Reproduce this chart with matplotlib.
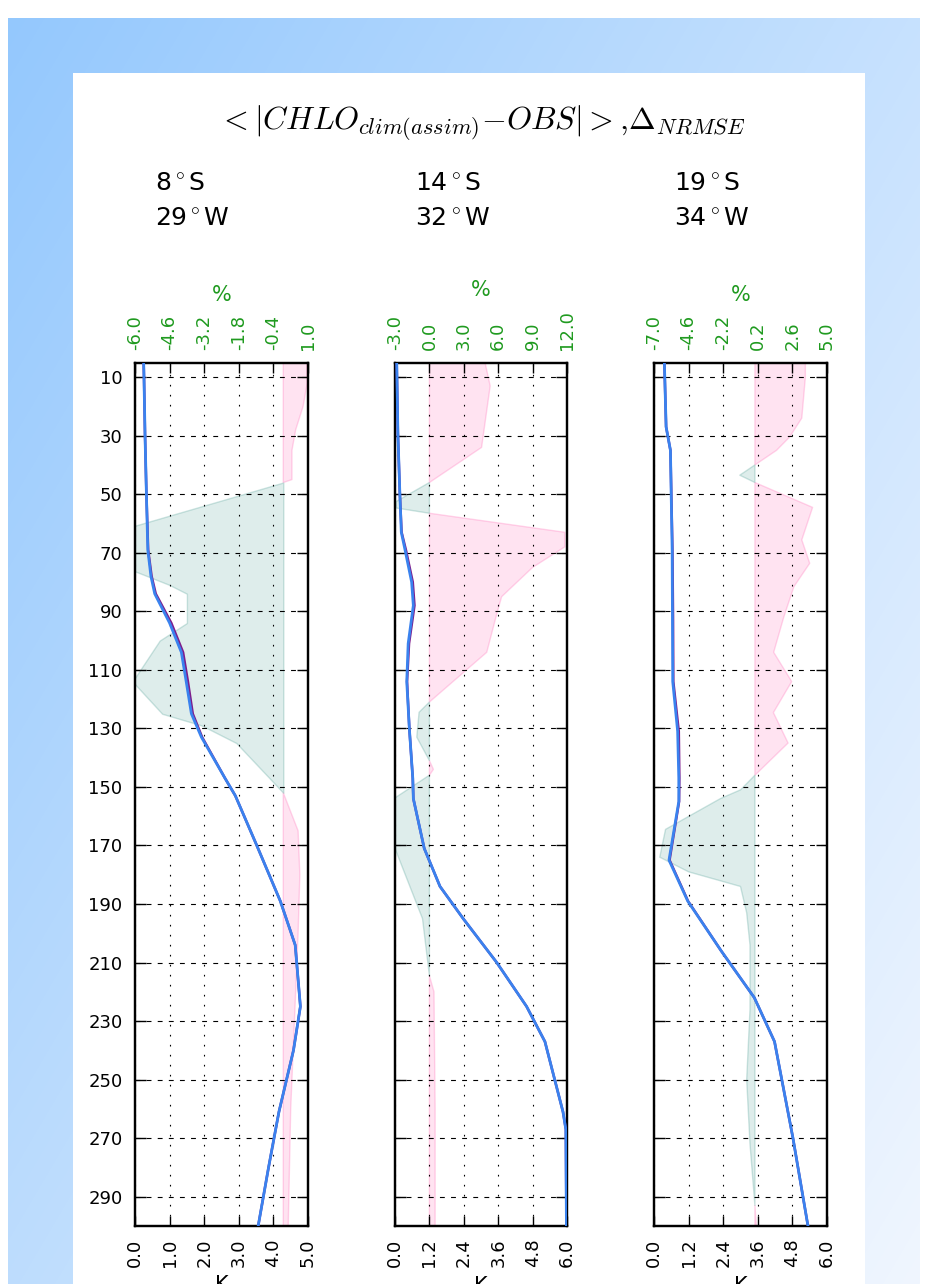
import numpy as np
import matplotlib
matplotlib.use("Agg")
import matplotlib.pyplot as plt
from matplotlib.patches import Rectangle

plt.rcParams["font.family"] = "DejaVu Sans"
plt.rcParams["mathtext.fontset"] = "cm"
plt.rcParams["lines.scale_dashes"] = False

# ---------------------------------------------------------------- data
title = r"${<}|CHLO_{clim(assim)}{-}OBS|{>}{,}\Delta_{NRMSE}$"
lat_labels = [r"8$^\circ$S", r"14$^\circ$S", r"19$^\circ$S"]
lon_labels = [r"29$^\circ$W", r"32$^\circ$W", r"34$^\circ$W"]

depth_ticks = list(range(10, 300, 20))
k_limits = [(0.0, 5.0), (0.0, 6.0), (0.0, 6.0)]
pct_limits = [(-6.0, 1.0), (-3.0, 12.0), (-7.0, 5.0)]

# profiles (K) against depth
depth_k1 = [5, 10, 30, 50, 69, 78, 84, 94, 104, 114, 125, 133, 147, 153, 170, 189, 204, 225, 240, 261, 280, 300]
clim1 = [0.25, 0.26, 0.29, 0.33, 0.37, 0.46, 0.57, 1.0, 1.34, 1.48, 1.63, 1.92, 2.6, 2.9, 3.52, 4.2, 4.63, 4.78, 4.58, 4.16, 3.86, 3.56]
assim1 = [0.25, 0.26, 0.29, 0.33, 0.38, 0.48, 0.6, 1.05, 1.39, 1.53, 1.67, 1.94, 2.6, 2.9, 3.52, 4.2, 4.63, 4.78, 4.58, 4.16, 3.86, 3.56]

depth_k2 = [5, 29, 50, 63, 69, 80, 88, 101, 114, 130, 147, 154, 171, 184, 195, 210, 225, 237, 261, 267, 300]
clim2 = [0.06, 0.10, 0.17, 0.22, 0.35, 0.58, 0.64, 0.46, 0.41, 0.50, 0.62, 0.64, 1.02, 1.57, 2.38, 3.55, 4.59, 5.23, 5.86, 5.96, 5.98]
assim2 = [0.06, 0.10, 0.17, 0.23, 0.38, 0.62, 0.68, 0.49, 0.42, 0.50, 0.62, 0.64, 1.02, 1.57, 2.38, 3.55, 4.59, 5.23, 5.86, 5.96, 5.98]

depth_k3 = [5, 27, 35, 69, 92, 114, 131, 147, 155, 175, 189, 206, 222, 237, 270, 300]
clim3 = [0.36, 0.42, 0.57, 0.63, 0.64, 0.65, 0.82, 0.86, 0.86, 0.52, 1.17, 2.33, 3.48, 4.18, 4.82, 5.34]
assim3 = [0.36, 0.42, 0.57, 0.64, 0.66, 0.67, 0.86, 0.88, 0.87, 0.54, 1.18, 2.33, 3.48, 4.18, 4.82, 5.34]

# NRMSE change (%) against depth
depth_p1 = [5, 12, 20, 28, 35, 45, 46, 61, 76, 81, 84, 94, 100, 114, 125, 129, 135, 152, 165, 180, 200, 230, 260, 300]
nrmse1 = [0.95, 0.97, 0.8, 0.5, 0.35, 0.35, 0.0, -6.1, -6.1, -4.6, -3.9, -3.9, -5.0, -6.1, -4.9, -3.3, -1.9, 0.0, 0.6, 0.67, 0.6, 0.45, 0.3, 0.2]

depth_p2 = [5, 13, 34, 46, 52.5, 54.7, 56.5, 63, 68, 75, 85, 90.5, 104, 121, 124.5, 133, 141, 144, 146, 154, 170, 195, 214.5, 220, 260, 300]
nrmse2 = [4.85, 5.3, 4.55, 0.0, -2.9, -2.9, 0.0, 11.8, 11.8, 9.0, 6.3, 5.9, 5.0, 0.0, -0.9, -1.1, 0.0, 0.35, 0.0, -3.1, -3.1, -0.6, 0.0, 0.4, 0.5, 0.5]

depth_p3 = [5, 10, 24, 30.5, 35, 40, 43.5, 46, 54.5, 65.6, 73.6, 81.6, 92, 104, 114, 124.6, 135, 146, 151, 154,
            164.5, 174, 179, 184, 193, 204, 226, 250, 272, 293, 300]
nrmse3 = [3.5, 3.5, 3.25, 2.4, 1.5, 0.0, -1.05, 0.0, 4.0, 3.25, 3.8, 2.7, 2.0, 1.3, 2.55, 1.28, 2.3, 0.0, -1.0, -2.4,
          -6.2, -6.6, -4.6, -1.0, -0.57, -0.34, -0.34, -0.57, -0.34, 0.0, 0.1]

depth_k = [depth_k1, depth_k2, depth_k3]
clim = [clim1, clim2, clim3]
assim = [assim1, assim2, assim3]
depth_p = [depth_p1, depth_p2, depth_p3]
nrmse = [nrmse1, nrmse2, nrmse3]

# ---------------------------------------------------------------- styling
W, H = 944, 1284
GREEN = "#1f9a1f"
BLUE = "#3a82ee"
PURPLE = "#7d1d8c"
PINK_FACE = (1.0, 0.41, 0.71, 0.18)
PINK_EDGE = (1.0, 0.41, 0.71, 0.28)
TEAL_FACE = (0.30, 0.62, 0.58, 0.18)
TEAL_EDGE = (0.30, 0.62, 0.58, 0.28)
TICK_FS = 13

fig = plt.figure(figsize=(W / 100, H / 100), dpi=100, facecolor="white")

# diagonal blue backdrop with a white card on it
bw, bh = 920 - 8, H - 18
gx = np.linspace(0, 1, bw)[None, :]
gy = np.linspace(0, 1, bh)[:, None]
t = np.clip(0.55 * gx + 0.45 * gy, 0, 1)
c0 = np.array([148, 200, 253]) / 255.0
c1 = np.array([240, 246, 255]) / 255.0
grad = c0[None, None, :] * (1 - t[..., None]) + c1[None, None, :] * t[..., None]
fig.figimage(grad, xo=8, yo=0, origin="upper", zorder=-3)
fig.add_artist(Rectangle((73 / W, 0), (865 - 73) / W, 1 - 73 / H, transform=fig.transFigure,
                         facecolor="white", edgecolor="none", zorder=-2))

fig.text(482 / W, 1 - 123 / H, title, fontsize=23, ha="center", va="center")

lefts = [135, 395, 654]
widths = [173, 172, 173]
top_px, bot_px = 362.5, 1226

for i in range(3):
    ax = fig.add_axes([lefts[i] / W, 1 - bot_px / H, widths[i] / W, (bot_px - top_px) / H])
    axp = ax.twiny()
    ax.set_zorder(axp.get_zorder() + 1)
    ax.patch.set_visible(False)

    d = np.array(depth_p[i], dtype=float)
    v = np.array(nrmse[i], dtype=float)
    axp.fill_betweenx(d, 0, v, where=v >= 0, interpolate=True,
                      facecolor=PINK_FACE, edgecolor=PINK_EDGE, lw=1)
    axp.fill_betweenx(d, 0, v, where=v <= 0, interpolate=True,
                      facecolor=TEAL_FACE, edgecolor=TEAL_EDGE, lw=1)
    axp.set_xlim(*pct_limits[i])

    ax.plot(assim[i], depth_k[i], color=PURPLE, lw=1.8, zorder=3)
    ax.plot(clim[i], depth_k[i], color=BLUE, lw=2.0, zorder=4)
    ax.set_xlim(*k_limits[i])
    ax.set_ylim(300, 5)

    kt = np.linspace(k_limits[i][0], k_limits[i][1], 6)
    ax.set_xticks(kt)
    ax.set_xticklabels(["%.1f" % x for x in kt], rotation=90, fontsize=TICK_FS)
    pt = np.linspace(pct_limits[i][0], pct_limits[i][1], 6)
    axp.set_xticks(pt)
    axp.set_xticklabels(["%.1f" % x for x in pt], rotation=90, fontsize=TICK_FS, color=GREEN)

    ax.set_yticks(depth_ticks)
    ax.set_yticklabels([str(x) for x in depth_ticks], fontsize=TICK_FS)
    ax.tick_params(axis="x", direction="in", length=7, width=1, pad=9, top=False, bottom=True)
    ax.tick_params(axis="y", direction="in", length=8, width=1, pad=9, left=True, right=True,
                   labelleft=(i == 0))
    axp.tick_params(axis="x", direction="in", length=7, width=1, pad=9, top=True, bottom=False)

    ax.xaxis.grid(True, linestyle=(0, (1.2, 6.0)), color="black", lw=0.8)
    ax.yaxis.grid(True, linestyle=(0, (3.5, 4.5)), color="black", lw=0.8)
    for sp in list(ax.spines.values()) + list(axp.spines.values()):
        sp.set_linewidth(1.6)

    axp.set_xlabel("%", color=GREEN, fontsize=15, labelpad=10)
    ax.set_xlabel("K", fontsize=15, labelpad=6)

    x_txt = (lefts[i] + 20) / W
    fig.text(x_txt, 1 - 183 / H, lat_labels[i], fontsize=18, ha="left", va="center")
    fig.text(x_txt, 1 - 218 / H, lon_labels[i], fontsize=18, ha="left", va="center")

fig.savefig("out.png", dpi=100, facecolor=fig.get_facecolor())
